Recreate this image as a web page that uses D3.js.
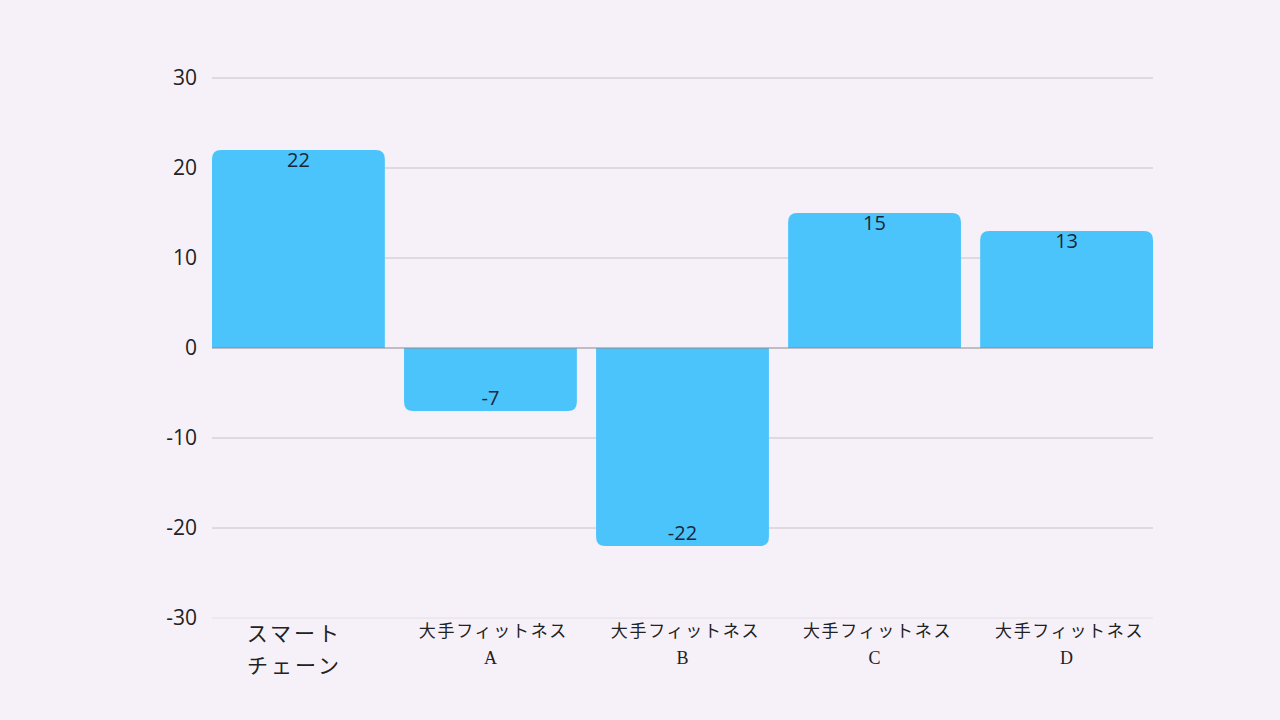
<!DOCTYPE html>
<html><head><meta charset="utf-8">
<script src="https://cdn.jsdelivr.net/npm/d3@7"></script>
<style>
html,body{margin:0;padding:0;background:#f6f1f8;}
svg{display:block;}
</style></head>
<body>
<svg id="chart" width="1280" height="720"></svg>
<script>
const categories = [["スマート","チェーン"],["大手フィットネス","A"],["大手フィットネス","B"],["大手フィットネス","C"],["大手フィットネス","D"]];
const values = [22, -7, -22, 15, 13];
const yTicks = [-30, -20, -10, 0, 10, 20, 30];

const svg = d3.select("#chart");
svg.append("rect").attr("width",1280).attr("height",720).attr("fill","#f6f1f8");

const x = d3.scaleBand().domain(d3.range(values.length)).range([212,1153]).paddingInner(0.1).paddingOuter(0);
const y = d3.scaleLinear().domain([-30,30]).range([618,78]);

// grid
svg.append("g").selectAll("line").data(yTicks.filter(d=>d!==0)).join("line")
  .attr("x1",212).attr("x2",1153).attr("y1",d=>y(d)).attr("y2",d=>y(d))
  .attr("stroke",d=>d===-30?"#e4dfe6":"#c6c2c8").attr("stroke-width",1);

// y tick labels
const yAxis = d3.axisLeft(y).tickValues(yTicks).tickSize(0).tickPadding(14).tickFormat(d=>String(d));
const ga = svg.append("g").attr("transform","translate(212,0)").call(yAxis);
ga.select(".domain").remove();
ga.selectAll("text").attr("font-family","Open Sans, sans-serif").attr("font-size",21).attr("fill","#222").attr("x",-15);

// bars with rounded outer corners
const r = 9;
function barPath(i, v){
  const x0 = x(i), w = x.bandwidth(), y0 = y(0), y1 = y(v);
  if (v >= 0){
    return `M${x0},${y0} L${x0},${y1+r} Q${x0},${y1} ${x0+r},${y1} L${x0+w-r},${y1} Q${x0+w},${y1} ${x0+w},${y1+r} L${x0+w},${y0} Z`;
  } else {
    return `M${x0},${y0} L${x0},${y1-r} Q${x0},${y1} ${x0+r},${y1} L${x0+w-r},${y1} Q${x0+w},${y1} ${x0+w},${y1-r} L${x0+w},${y0} Z`;
  }
}
svg.append("g").selectAll("path").data(values).join("path")
  .attr("d",(v,i)=>barPath(i,v)).attr("fill","#4bc4fb");

// zero line
svg.append("line").attr("x1",212).attr("x2",1153).attr("y1",y(0)).attr("y2",y(0)).attr("stroke","#8a8a90").attr("stroke-width",1);

// value labels
svg.append("g").selectAll("text").data(values).join("text")
  .attr("x",(v,i)=>x(i)+x.bandwidth()/2)
  .attr("y",v=> v>=0 ? y(v)+17 : y(v)-6)
  .attr("text-anchor","middle")
  .attr("font-family","Open Sans, sans-serif").attr("font-size",20).attr("fill","#1b2538")
  .text(v=>v);

// category labels
const cg = svg.append("g");
categories.forEach((c,i)=>{
  const cx = x(i)+x.bandwidth()/2;
  const first = i===0;
  const t = cg.append("text").attr("text-anchor","middle")
    .attr("font-family","Liberation Serif, Noto Sans CJK JP, serif").attr("fill","#222");
  if(first){
    t.attr("font-size",21).attr("letter-spacing","3px");
    t.append("tspan").attr("x",cx-4).attr("y",641).text(c[0]);
    t.append("tspan").attr("x",cx-4).attr("y",673).text(c[1]);
  } else {
    t.attr("font-size",17).attr("letter-spacing","1.7px");
    t.append("tspan").attr("x",cx+3).attr("y",637).text(c[0]);
    t.append("tspan").attr("x",cx).attr("y",664).attr("font-size",18).attr("letter-spacing","0px").text(c[1]);
  }
});
</script>
</body></html>
